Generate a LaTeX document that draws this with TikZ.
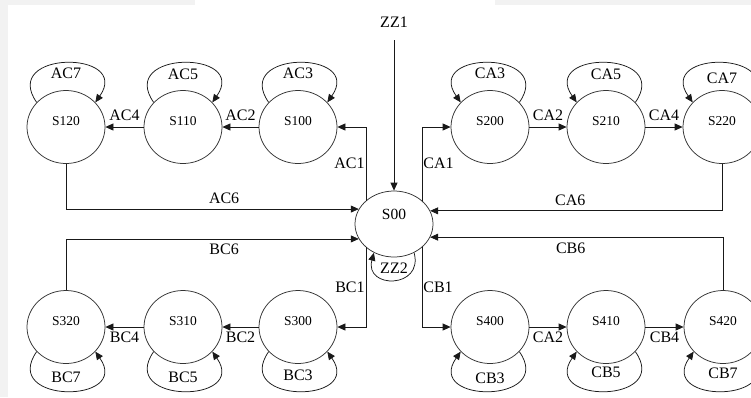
\documentclass[tikz,border=0pt]{standalone}
\usepackage{fontspec}
\setmainfont{Liberation Serif}
\usetikzlibrary{arrows.meta, shapes.geometric}
\tikzset{
	state/.style={ellipse, draw=black!80, line width=0.75pt, minimum width=78pt, minimum height=73pt,
		inner sep=0pt, font=\fontsize{13.5}{13.5}\selectfont, text height=9pt, text depth=12pt},
	arr/.style={draw=black!90, line width=0.75pt, -{Triangle[length=8pt, width=7pt]}},
	selfloop/.style={arr, looseness=2.8},
	lbl/.style={font=\fontsize{16}{16}\selectfont, inner sep=1pt}
}

\begin{document}
\begin{tikzpicture}[x=1pt, y=1pt]
	\useasboundingbox (0,0) rectangle (751,-397);
	\fill[black!5] (0,0) rectangle (8,-397);
	\fill[black!5] (0,0) rectangle (195,-5);
	\fill[black!5] (495,0) rectangle (751,-5);
	% states
	\node[state, minimum height=66pt, font=\fontsize{15.5}{15.5}\selectfont, text height=10pt, text depth=20pt] (s00) at (394,-224) {S00};
	\node[state] (s100) at (298,-127) {S100};
	\node[state] (s110) at (183,-127) {S110};
	\node[state] (s120) at (66,-127) {S120};
	\node[state] (s200) at (490,-127) {S200};
	\node[state] (s210) at (606,-127) {S210};
	\node[state] (s220) at (722,-127) {S220};
	\node[state] (s300) at (298,-327) {S300};
	\node[state] (s310) at (183,-327) {S310};
	\node[state] (s320) at (66,-327) {S320};
	\node[state] (s400) at (490,-327) {S400};
	\node[state] (s410) at (606,-327) {S410};
	\node[state] (s420) at (723,-327) {S420};
	% entry
	\node[lbl] (zz1) at (394,-22) {ZZ1};
	\draw[arr, shorten <=12pt] (zz1) -- (s00);
	% from S00 to the four chains
	\draw[arr] (s00.140) |- (s100) node[lbl, pos=0.25, left] (lac1) {AC1};
	\draw[arr] (s00.40) |- (s200) node[lbl, pos=0.25, right] (lca1) {CA1};
	\draw[arr] (s00.-140) |- (s300) node[lbl, pos=0.25, left] (lbc1) {BC1};
	\draw[arr] (s00.-40) |- (s400) node[lbl, pos=0.25, right] (lcb1) {CB1};
	% chains
	\draw[arr] (s100) -- (s110) node[lbl, midway, above=5pt] (lac2) {AC2};
	\draw[arr] (s110) -- (s120) node[lbl, midway, above=5pt] (lac4) {AC4};
	\draw[arr] (s200) -- (s210) node[lbl, midway, above=5pt] (lca2) {CA2};
	\draw[arr] (s210) -- (s220) node[lbl, midway, above=5pt] (lca4) {CA4};
	\draw[arr] (s300) -- (s310) node[lbl, midway, below=4pt] (lbc2) {BC2};
	\draw[arr] (s310) -- (s320) node[lbl, midway, below=4pt] (lbc4) {BC4};
	\draw[arr] (s400) -- (s410) node[lbl, midway, below=4pt] (lcb2) {CA2};
	\draw[arr] (s410) -- (s420) node[lbl, midway, below=4pt] (lcb4) {CB4};
	% back to S00
	\draw[arr] (s120) |- (s00.157) node[lbl, pos=0.77, above=4pt] (lac6) {AC6};
	\draw[arr] (s320) |- (s00.-157) node[lbl, pos=0.77, below=4pt] (lbc6) {BC6};
	\draw[arr] (s220) |- (s00.20) node[lbl, pos=0.76, above=4pt] (lca6) {CA6};
	\draw[arr] (s420) |- (s00.-20) node[lbl, pos=0.76, below=4pt] (lcb6) {CB6};
	% self loops
	\draw[selfloop] (s120.140) to[out=125, in=55] (s120.40);
	\draw[selfloop] (s110.140) to[out=125, in=55] (s110.40);
	\draw[selfloop] (s100.140) to[out=125, in=55] (s100.40);
	\draw[selfloop] (s200.40) to[out=55, in=125] (s200.140);
	\draw[selfloop] (s210.40) to[out=55, in=125] (s210.140);
	\draw[selfloop] (s220.40) to[out=55, in=125] (s220.140);
	\draw[selfloop] (s320.-140) to[out=-125, in=-55] (s320.-40);
	\draw[selfloop] (s310.-140) to[out=-125, in=-55] (s310.-40);
	\draw[selfloop] (s300.-140) to[out=-125, in=-55] (s300.-40);
	\draw[selfloop] (s400.-40) to[out=-55, in=-125] (s400.-140);
	\draw[selfloop] (s410.-40) to[out=-55, in=-125] (s410.-140);
	\draw[selfloop] (s420.-40) to[out=-55, in=-125] (s420.-140);
	\draw[selfloop, looseness=2.4] (s00.-55) to[out=-75, in=-105] (s00.-125);
	% loop labels
	\node[lbl] (lac7) at ([yshift=54pt]s120.center) {AC7};
	\node[lbl] (lac5) at ([yshift=53pt]s110.center) {AC5};
	\node[lbl] (lac3) at ([yshift=54pt]s100.center) {AC3};
	\node[lbl] (lca3) at ([yshift=54pt]s200.center) {CA3};
	\node[lbl] (lca5) at ([yshift=53pt]s210.center) {CA5};
	\node[lbl] (lca7) at ([yshift=49pt]s220.center) {CA7};
	\node[lbl] (lbc7) at ([yshift=-50pt]s320.center) {BC7};
	\node[lbl] (lbc5) at ([yshift=-50pt]s310.center) {BC5};
	\node[lbl] (lbc3) at ([yshift=-48pt]s300.center) {BC3};
	\node[lbl] (lcb3) at ([yshift=-51pt]s400.center) {CB3};
	\node[lbl] (lcb5) at ([yshift=-45pt]s410.center) {CB5};
	\node[lbl] (lcb7) at ([yshift=-46pt]s420.center) {CB7};
	\node[lbl] (lzz2) at ([yshift=-44pt]s00.center) {ZZ2};
\end{tikzpicture}
\end{document}
